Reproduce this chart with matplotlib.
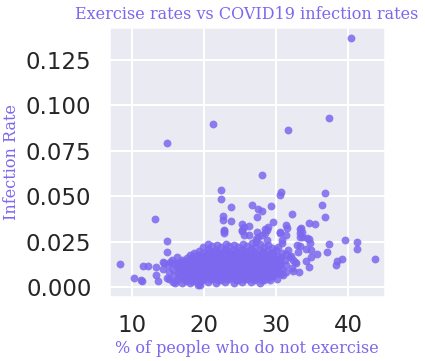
import matplotlib
matplotlib.use("Agg")
import matplotlib.pyplot as plt
import seaborn as sns

# % of people who do not exercise vs infection rate
pct_no_exercise = [
    # sparse / outlying points
    8.4, 10.3, 11.3, 11.4, 11.6, 12.3, 13.3, 13.2, 13.6, 13.4,
    14.8, 14.9, 14.9, 14.3, 14.3, 14.8, 14.5, 15.3, 15.5, 16.0,
    16.2, 16.5, 17.1, 18.5, 19.1, 19.5,
    21.3, 22.4, 22.3, 23.8, 22.7, 22.7, 23.8, 25.3, 22.8, 22.8,
    25.2, 25.5, 26.2, 25.5, 25.3,
    40.4, 37.3, 31.6, 28.0, 30.7, 30.5, 36.8, 26.7, 27.5, 28.1,
    29.3, 27.3, 36.3, 36.8, 32.2, 29.6, 28.9, 34.6, 35.4, 33.4,
    31.3, 31.5, 26.2,
    39.5, 41.2, 41.2, 43.7, 39.2, 38.4, 38.3, 37.3, 37.0, 35.7,
    34.9, 34.6, 33.2, 32.3, 34.1, 32.8, 32.4, 32.0, 34.2, 34.9,
    32.9, 33.3, 34.6, 34.7, 33.3, 33.6, 34.3,
    27.3, 28.5, 28.7, 30.6, 30.8, 31.3, 33.1, 31.7, 31.9, 32.6,
    32.2, 31.0, 27.3, 29.2, 29.6,
    28.7, 28.4, 28.0, 27.5, 27.2, 30.6, 30.8, 30.3, 33.3, 33.6,
    33.3, 22.8,
    # main cluster
    15.1, 15.2, 15.0,
    15.7, 15.8, 15.7, 15.6,
    16.3, 16.4, 16.2, 16.3,
    16.9, 17.0, 16.8, 16.9, 17.0,
    17.5, 17.6, 17.4, 17.5, 17.6,
    18.1, 18.2, 18.0, 18.1, 18.2, 18.0,
    18.7, 18.8, 18.6, 18.7, 18.8, 18.6,
    19.3, 19.4, 19.2, 19.3, 19.4, 19.2, 19.3,
    19.9, 20.0, 19.8, 19.9, 20.0, 19.8, 19.9,
    20.5, 20.6, 20.4, 20.5, 20.6, 20.4, 20.5, 20.6,
    21.1, 21.2, 21.0, 21.1, 21.2, 21.0, 21.1,
    21.7, 21.8, 21.6, 21.7, 21.8, 21.6, 21.7, 21.8,
    22.3, 22.4, 22.2, 22.3, 22.4, 22.2, 22.3,
    22.9, 23.0, 22.8, 22.9, 23.0, 22.8, 22.9, 23.0,
    23.5, 23.6, 23.4, 23.5, 23.6, 23.4, 23.5,
    24.1, 24.2, 24.0, 24.1, 24.2, 24.0, 24.1, 24.2,
    24.7, 24.8, 24.6, 24.7, 24.8, 24.6, 24.7,
    25.3, 25.4, 25.2, 25.3, 25.4, 25.2, 25.3, 25.4,
    25.9, 26.0, 25.8, 25.9, 26.0, 25.8, 25.9,
    26.5, 26.6, 26.4, 26.5, 26.6, 26.4, 26.5, 26.6,
    27.1, 27.2, 27.0, 27.1, 27.2, 27.0, 27.1, 27.2,
    27.7, 27.8, 27.6, 27.7, 27.8, 27.6, 27.7, 27.8,
    28.3, 28.4, 28.2, 28.3, 28.4, 28.2, 28.3,
    28.9, 29.0, 28.8, 28.9, 29.0, 28.8, 28.9,
    29.5, 29.6, 29.4, 29.5, 29.6, 29.4,
    30.1, 30.2, 30.0, 30.1, 30.2, 30.0,
    30.7, 30.8, 30.6, 30.7, 30.8,
    31.3, 31.4, 31.2, 31.3,
    # main cluster, points lying between the ones above
    16.6, 16.7, 16.5,
    17.2, 17.3, 17.2, 17.1,
    17.8, 17.9, 17.8, 17.7,
    18.4, 18.5, 18.4, 18.3, 18.5,
    19.0, 19.1, 19.0, 18.9, 19.1,
    19.6, 19.7, 19.6, 19.5, 19.7,
    20.2, 20.3, 20.2, 20.1, 20.3,
    20.8, 20.9, 20.8, 20.7, 20.9, 20.8,
    21.4, 21.5, 21.4, 21.3, 21.5,
    22.0, 22.1, 22.0, 21.9, 22.1, 22.0,
    22.6, 22.7, 22.6, 22.5, 22.7,
    23.2, 23.3, 23.2, 23.1, 23.3, 23.2,
    23.8, 23.9, 23.8, 23.7, 23.9,
    24.4, 24.5, 24.4, 24.3, 24.5, 24.4,
    25.0, 25.1, 25.0, 24.9, 25.1,
    25.6, 25.7, 25.6, 25.5, 25.7, 25.6,
    26.2, 26.3, 26.2, 26.1, 26.3,
    26.8, 26.9, 26.8, 26.7, 26.9, 26.8,
    27.4, 27.5, 27.4, 27.3, 27.5,
    28.0, 28.1, 28.0, 27.9, 28.1, 28.0,
    28.6, 28.7, 28.6, 28.5, 28.7,
    29.2, 29.3, 29.2, 29.1, 29.3,
    29.8, 29.9, 29.8, 29.7,
    30.4, 30.5, 30.4,
]

infection_rate = [
    0.0125, 0.0048, 0.0038, 0.0035, 0.0114, 0.0114, 0.0108, 0.0372, 0.0031, 0.0066,
    0.0253, 0.0191, 0.0790, 0.0139, 0.0097, 0.0048, 0.0130, 0.0136, 0.0130, 0.0020,
    0.0163, 0.0130, 0.0048, 0.0172, 0.0011, 0.0010,
    0.0894, 0.0533, 0.0482, 0.0438, 0.0390, 0.0368, 0.0364, 0.0346, 0.0313, 0.0300,
    0.0308, 0.0331, 0.0286, 0.0286, 0.0313,
    0.1368, 0.0932, 0.0866, 0.0614, 0.0522, 0.0504, 0.0515, 0.0449, 0.0427, 0.0419,
    0.0443, 0.0386, 0.0450, 0.0383, 0.0401, 0.0355, 0.0331, 0.0350, 0.0346, 0.0324,
    0.0341, 0.0323, 0.0335,
    0.0258, 0.0249, 0.0207, 0.0152, 0.0152, 0.0143, 0.0121, 0.0235, 0.0194, 0.0180,
    0.0163, 0.0112, 0.0081, 0.0086, 0.0141, 0.0132, 0.0150, 0.0170, 0.0207, 0.0202,
    0.0229, 0.0225, 0.0262, 0.0240, 0.0295, 0.0276, 0.0268,
    0.0304, 0.0322, 0.0258, 0.0304, 0.0258, 0.0286, 0.0194, 0.0203, 0.0167, 0.0139,
    0.0103, 0.0066, 0.0048, 0.0038, 0.0066,
    0.0313, 0.0299, 0.0286, 0.0277, 0.0262, 0.0295, 0.0240, 0.0222, 0.0322, 0.0304,
    0.0276, 0.0308,
    # main cluster
    0.0045, 0.0085, 0.0120,
    0.0030, 0.0065, 0.0100, 0.0150,
    0.0040, 0.0075, 0.0110, 0.0135,
    0.0025, 0.0060, 0.0095, 0.0125, 0.0150,
    0.0035, 0.0070, 0.0100, 0.0130, 0.0160,
    0.0020, 0.0050, 0.0085, 0.0115, 0.0145, 0.0175,
    0.0035, 0.0065, 0.0095, 0.0125, 0.0155, 0.0185,
    0.0025, 0.0055, 0.0085, 0.0115, 0.0145, 0.0175, 0.0200,
    0.0040, 0.0070, 0.0100, 0.0130, 0.0160, 0.0190, 0.0220,
    0.0030, 0.0060, 0.0090, 0.0120, 0.0150, 0.0180, 0.0210, 0.0235,
    0.0045, 0.0075, 0.0105, 0.0135, 0.0165, 0.0195, 0.0225,
    0.0025, 0.0055, 0.0085, 0.0115, 0.0145, 0.0175, 0.0205, 0.0230,
    0.0040, 0.0070, 0.0100, 0.0130, 0.0160, 0.0190, 0.0220,
    0.0030, 0.0060, 0.0090, 0.0120, 0.0150, 0.0180, 0.0210, 0.0235,
    0.0045, 0.0075, 0.0105, 0.0135, 0.0165, 0.0195, 0.0225,
    0.0025, 0.0055, 0.0085, 0.0115, 0.0145, 0.0175, 0.0205, 0.0230,
    0.0040, 0.0070, 0.0100, 0.0130, 0.0160, 0.0190, 0.0220,
    0.0030, 0.0060, 0.0090, 0.0120, 0.0150, 0.0180, 0.0210, 0.0235,
    0.0045, 0.0075, 0.0105, 0.0135, 0.0165, 0.0195, 0.0225,
    0.0030, 0.0060, 0.0090, 0.0120, 0.0150, 0.0180, 0.0210, 0.0240,
    0.0040, 0.0070, 0.0100, 0.0130, 0.0160, 0.0190, 0.0220, 0.0250,
    0.0025, 0.0055, 0.0085, 0.0115, 0.0145, 0.0175, 0.0205, 0.0235,
    0.0040, 0.0070, 0.0100, 0.0130, 0.0160, 0.0190, 0.0220,
    0.0050, 0.0080, 0.0110, 0.0140, 0.0170, 0.0200, 0.0230,
    0.0060, 0.0090, 0.0120, 0.0150, 0.0185, 0.0215,
    0.0045, 0.0080, 0.0110, 0.0140, 0.0170, 0.0205,
    0.0070, 0.0100, 0.0130, 0.0160, 0.0190,
    0.0085, 0.0120, 0.0150, 0.0180,
    # main cluster, points lying between the ones above
    0.0055, 0.0090, 0.0120,
    0.0045, 0.0080, 0.0110, 0.0140,
    0.0050, 0.0085, 0.0115, 0.0145,
    0.0035, 0.0080, 0.0110, 0.0140, 0.0165,
    0.0050, 0.0080, 0.0110, 0.0140, 0.0170,
    0.0040, 0.0070, 0.0100, 0.0130, 0.0165,
    0.0055, 0.0085, 0.0115, 0.0145, 0.0175,
    0.0045, 0.0075, 0.0105, 0.0135, 0.0165, 0.0200,
    0.0060, 0.0090, 0.0120, 0.0150, 0.0185,
    0.0040, 0.0070, 0.0100, 0.0130, 0.0160, 0.0195,
    0.0055, 0.0085, 0.0115, 0.0145, 0.0175,
    0.0045, 0.0075, 0.0105, 0.0135, 0.0165, 0.0200,
    0.0060, 0.0090, 0.0120, 0.0150, 0.0180,
    0.0040, 0.0070, 0.0100, 0.0130, 0.0160, 0.0195,
    0.0055, 0.0085, 0.0115, 0.0145, 0.0175,
    0.0045, 0.0075, 0.0105, 0.0135, 0.0165, 0.0200,
    0.0060, 0.0090, 0.0120, 0.0150, 0.0180,
    0.0045, 0.0075, 0.0105, 0.0135, 0.0165, 0.0200,
    0.0055, 0.0085, 0.0115, 0.0145, 0.0175,
    0.0040, 0.0070, 0.0100, 0.0130, 0.0160, 0.0195,
    0.0055, 0.0085, 0.0115, 0.0145, 0.0175,
    0.0065, 0.0095, 0.0125, 0.0155, 0.0185,
    0.0075, 0.0105, 0.0135, 0.0165,
    0.0090, 0.0120, 0.0150,
]

sns.set_theme(style="darkgrid", context="talk")

fig, ax = plt.subplots(figsize=(4.25, 3.61), dpi=100)
fig.subplots_adjust(left=0.256, right=0.906, top=0.925, bottom=0.177)

ax.scatter(pct_no_exercise, infection_rate, s=32, color="mediumslateblue",
           alpha=0.85, linewidths=0)

ax.set_xlim(6.8, 45.1)
ax.set_ylim(-0.0055, 0.1429)
ax.set_xticks([10, 20, 30, 40])
ax.set_yticks([0, 0.025, 0.05, 0.075, 0.1, 0.125])
ax.set_yticklabels(["0.000", "0.025", "0.050", "0.075", "0.100", "0.125"])

font = {"family": "serif", "color": "mediumslateblue", "size": 11.5}
ax.set_title("Exercise rates vs COVID19 infection rates", fontdict=font)
ax.set_xlabel("% of people who do not exercise", fontdict=font, labelpad=2)
ax.set_ylabel("Infection Rate", fontdict=font)

fig.savefig("out.png", dpi=100)
